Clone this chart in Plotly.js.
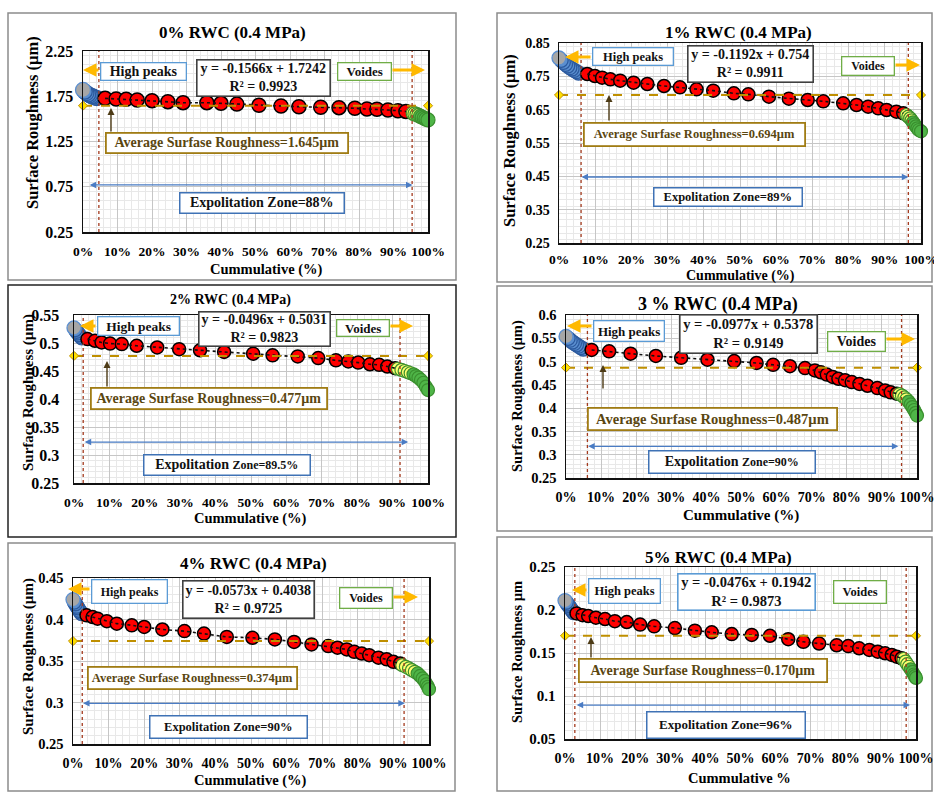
<!DOCTYPE html>
<html><head><meta charset="utf-8">
<script src="https://cdn.plot.ly/plotly-3.0.1.min.js"></script>
<style>html,body{margin:0;padding:0;background:#fff}#chart{width:934px;height:792px}</style>
</head><body><div id="chart"></div>
<script>
// ================= DATA =================
const panelTitles = ["0% RWC (0.4 MPa)", "1% RWC (0.4 MPa)", "2% RWC (0.4 MPa)", "3 % RWC (0.4 MPa)", "4% RWC (0.4 MPa)", "5% RWC (0.4 MPa)"];
const xAxisTitles = ["Cummulative (%)", "Cummulative (%)", "Cummulative (%)", "Cummulative (%)", "Cummulative (%)", "Cummulative %"];
const yAxisTitles = ["Surface Roughness (µm)", "Surface Roughness (µm)", "Surface Roughness (µm)", "Surface Roughness (µm)", "Surface Roughness (µm)", "Surface Roughness µm"];
const equations = ["y = -0.1566x + 1.7242", "y = -0.1192x + 0.754", "y = -0.0496x + 0.5031", "y = -0.0977x + 0.5378", "y = -0.0573x + 0.4038", "y = -0.0476x + 0.1942"];
const rSquared = ["R² = 0.9923", "R² = 0.9911", "R² = 0.9823", "R² = 0.9149", "R² = 0.9725", "R² = 0.9873"];
const avgValues = [1.645, 0.694, 0.477, 0.487, 0.374, 0.170];
const avgLabels = ["Average Surfase Roughness=1.645µm", "Average Surfase Roughness=0.694µm", "Average Surfase Roughness=0.477µm", "Average Surfase Roughness=0.487µm", "Average Surfase Roughness=0.374µm", "Average Surfase Roughness=0.170µm"];
const zoneValues = ["88%", "89%", "89.5%", "90%", "90%", "96%"];
const peakLabel = "High peaks";
const voidLabel = "Voides";
const peakBounds = [4.6, 6.1, 2.6, 6.1, 2.6, 2.8];
const voidBounds = [95.4, 96.5, 92.1, 95.6, 93.0, 97.2];
const zoneStart = [1.5, 5.8, 2.6, 5.9, 2.4, 2.9];
const zoneEnd = [95.5, 96.5, 94.4, 94.7, 93.2, 98.3];
const zoneLevel = [0.77, 0.448, 0.323, 0.318, 0.299, 0.0895];
const yMin = [0.25, 0.25, 0.25, 0.25, 0.25, 0.05];
const yMax = [2.25, 0.85, 0.55, 0.60, 0.45, 0.25];
const yStep = [0.5, 0.1, 0.05, 0.05, 0.05, 0.05];

// panel 0% RWC
const blueX0 = [0, 0.5, 1, 1.5, 2, 2.5, 3, 3.5, 4];
const blueY0 = [1.82, 1.80, 1.785, 1.77, 1.76, 1.75, 1.745, 1.735, 1.73];
const redX0 = [6.4, 9.6, 12.5, 15.7, 20.0, 24.6, 29.0, 35.9, 40.0, 44.6, 51.0, 57.4, 62.6, 68.9, 74.2, 78.8, 82.3, 85.2, 88.4, 91.3, 93.6];
const redY0 = [1.727, 1.720, 1.716, 1.709, 1.701, 1.690, 1.679, 1.679, 1.672, 1.663, 1.650, 1.642, 1.634, 1.628, 1.624, 1.617, 1.609, 1.606, 1.598, 1.590, 1.582];
const greenX0 = [95.7, 96.2, 96.8, 97.3, 97.8, 98.3, 98.9, 99.4, 100];
const greenY0 = [1.562, 1.555, 1.547, 1.538, 1.528, 1.518, 1.508, 1.498, 1.488];
// panel 1% RWC
const blueX1 = [0, 0.6, 1.2, 1.8, 2.4, 3.0, 3.6, 4.2, 4.8, 5.4];
const blueY1 = [0.805, 0.798, 0.792, 0.786, 0.781, 0.776, 0.772, 0.768, 0.764, 0.760];
const redX1 = [7.8, 9.9, 11.9, 14.2, 16.9, 20.6, 24.4, 29.0, 33.4, 38.0, 42.6, 48.3, 52.3, 58.0, 63.5, 68.7, 73.0, 78.5, 82.2, 85.4, 88.2, 90.5, 93.2, 95.1];
const redY1 = [0.757, 0.751, 0.746, 0.741, 0.737, 0.731, 0.727, 0.721, 0.717, 0.711, 0.707, 0.699, 0.696, 0.689, 0.683, 0.679, 0.675, 0.669, 0.664, 0.659, 0.654, 0.649, 0.644, 0.639];
const greenX1 = [96, 96.5, 97, 97.4, 97.8, 98.2, 98.6, 99, 99.4, 100];
const greenY1 = [0.634, 0.629, 0.624, 0.618, 0.612, 0.606, 0.600, 0.594, 0.589, 0.585];
// panel 2% RWC
const blueX2 = [0, 0.35, 0.7, 1.05, 1.4, 1.8, 2.2];
const blueY2 = [0.527, 0.524, 0.521, 0.518, 0.515, 0.512, 0.509];
const redX2 = [3.8, 5.9, 7.8, 10.2, 13.5, 17.7, 23.5, 29.7, 35.6, 42.4, 50.6, 56.1, 63.2, 69.0, 74.0, 77.5, 80.3, 83.6, 86.2, 88.5, 90.7];
const redY2 = [0.507, 0.504, 0.501, 0.499, 0.498, 0.495, 0.492, 0.489, 0.487, 0.484, 0.481, 0.478, 0.476, 0.473, 0.469, 0.467, 0.465, 0.462, 0.461, 0.458, 0.455];
const greenX2 = [91.5, 92.5, 93.4, 94.3, 95.1, 95.9, 96.6, 97.3, 98, 98.7, 99.4, 100];
const greenY2 = [0.454, 0.452, 0.450, 0.448, 0.446, 0.444, 0.441, 0.438, 0.434, 0.429, 0.422, 0.416];
// panel 3% RWC
const blueX3 = [0, 0.6, 1.2, 1.8, 2.4, 3.0, 3.6, 4.2, 4.9];
const blueY3 = [0.554, 0.550, 0.546, 0.542, 0.539, 0.536, 0.533, 0.530, 0.527];
const redX3 = [7.3, 12.3, 18.4, 25.6, 32.8, 40.3, 47.9, 54.3, 59.0, 63.8, 68.1, 70.9, 72.6, 74.3, 76.0, 77.6, 79.5, 81.4, 83.6, 85.9, 88.7, 90.9, 92.5, 94.2];
const redY3 = [0.525, 0.522, 0.517, 0.512, 0.508, 0.504, 0.501, 0.497, 0.493, 0.490, 0.486, 0.481, 0.477, 0.472, 0.467, 0.463, 0.460, 0.456, 0.452, 0.448, 0.443, 0.438, 0.434, 0.431];
const greenX3 = [95, 95.7, 96.4, 97, 97.6, 98.2, 98.7, 99.2, 99.6, 100];
const greenY3 = [0.430, 0.427, 0.423, 0.419, 0.414, 0.408, 0.402, 0.396, 0.390, 0.384];
// panel 4% RWC
const blueX4 = [0, 0.35, 0.7, 1.05, 1.4, 1.75, 2.1, 2.4];
const blueY4 = [0.424, 0.421, 0.419, 0.416, 0.414, 0.411, 0.409, 0.407];
const redX4 = [3.8, 5.5, 6.9, 9.5, 12.3, 16.5, 20.0, 25.1, 31.3, 36.8, 43.2, 50.4, 56.7, 62.1, 67.0, 71.7, 74.3, 76.9, 79.0, 81.1, 83.2, 85.8, 88.1, 90.0, 91.9];
const redY4 = [0.405, 0.403, 0.401, 0.398, 0.395, 0.393, 0.391, 0.388, 0.386, 0.383, 0.379, 0.378, 0.376, 0.373, 0.370, 0.368, 0.366, 0.364, 0.361, 0.359, 0.357, 0.354, 0.352, 0.349, 0.347];
const greenX4 = [92.5, 93.5, 94.4, 95.2, 96, 96.8, 97.5, 98.2, 98.8, 99.3, 99.7, 100];
const greenY4 = [0.345, 0.343, 0.341, 0.339, 0.337, 0.335, 0.332, 0.329, 0.326, 0.322, 0.319, 0.316];
// panel 5% RWC
const blueX5 = [0, 0.35, 0.7, 1.05, 1.4, 1.75, 2.1, 2.4];
const blueY5 = [0.211, 0.209, 0.207, 0.205, 0.203, 0.201, 0.199, 0.197];
const redX5 = [3.3, 5.0, 6.6, 8.8, 11.4, 14.2, 17.6, 21.4, 25.4, 31.3, 37.0, 41.8, 47.5, 53.2, 58.4, 63.6, 67.9, 72.4, 77.4, 80.7, 83.8, 86.7, 89.1, 91.2, 93.1, 94.5, 95.9];
const redY5 = [0.196, 0.194, 0.193, 0.191, 0.1895, 0.187, 0.186, 0.183, 0.181, 0.179, 0.176, 0.174, 0.172, 0.171, 0.170, 0.166, 0.163, 0.161, 0.159, 0.158, 0.1555, 0.1535, 0.1515, 0.1497, 0.1477, 0.1457, 0.1438];
const greenX5 = [96.5, 97, 97.5, 98, 98.5, 99, 99.4, 99.7, 100];
const greenY5 = [0.143, 0.140, 0.137, 0.134, 0.131, 0.128, 0.125, 0.123, 0.121];

const blueX = [blueX0, blueX1, blueX2, blueX3, blueX4, blueX5];
const blueY = [blueY0, blueY1, blueY2, blueY3, blueY4, blueY5];
const redX = [redX0, redX1, redX2, redX3, redX4, redX5];
const redY = [redY0, redY1, redY2, redY3, redY4, redY5];
const greenX = [greenX0, greenX1, greenX2, greenX3, greenX4, greenX5];
const greenY = [greenY0, greenY1, greenY2, greenY3, greenY4, greenY5];

// ================= LAYOUT GEOMETRY (pixels) =================
const W = 934, H = 792;
const geo = [
  {ax:[83,428,51,232], frame:[8,13,456,280,'#8c8c8c'], title:[232,33,17], xt:[266,270,14.5], yt:[33,123,16.5], tk:[13.5,16], ys:5, xs:6,
   hp:[100,62,186,80,14], eq:[197,60,330,96,14,'#404040'], vo:[337,62,391,80,13], avg:[106,133,348,153,14], ex:[180,193,344,213,14,14],
   arL:[100,70,83,70], arR:[391,70,425,70], arS:[111,133,111,108], ms:14},
  {ax:[559,921,43,243], frame:[497,13,932,282,'#8c8c8c'], title:[738,32,17], xt:[740,275.5,14], yt:[510,141,16.5], tk:[13.5,14], ys:5, xs:3,
   hp:[592,47,673,65,12.5], eq:[688,46,813,82,14,'#404040'], vo:[841,56,894,75,12], avg:[584,123,805,146,12.5], ex:[654,188,802,206,12.5,12.5],
   arL:[592,57,565,57], arR:[894,65,920,65], arS:[609,122,609,95], ms:13},
  {ax:[74,428,315,483], frame:[8,285,456,537,'#222'], title:[230,300,14], xt:[250,518,14.5], yt:[28,393,15], tk:[13.5,16], ys:10, xs:6,
   hp:[97,316,179,335,13.5], eq:[199,312,330,346,14,'#404040'], vo:[336,319,389,336,13], avg:[91,388,327,409,14], ex:[144,455,310,475,14,12],
   arL:[97,326,80,326], arR:[389,326,413,326], arS:[107,388,107,361], ms:13},
  {ax:[566,917,315,478], frame:[497,286,932,531,'#8c8c8c'], title:[718,304,18], xt:[741,515,15], yt:[517,396,14.5], tk:[14,14.5], ys:5, xs:6,
   hp:[593,320,664,341,13], eq:[680,315,817,353,14.5,'#404040'], vo:[827,331,885,351,14], avg:[588,408,837,430,14.5], ex:[649,451,815,473,14,12],
   arL:[593,326,567,326], arR:[885,339,915,339], arS:[603,390,603,365], ms:13},
  {ax:[73,429,578,744], frame:[8,543,455,791,'#8c8c8c'], title:[253,563,17], xt:[251,780,14.5], yt:[28,657,15], tk:[14,14.5], ys:5, xs:6,
   hp:[91,579,167,603,12], eq:[183,581,314,618,14,'#404040'], vo:[339,587,392,608,12], avg:[88,667,297,689,12.5], ex:[150,716,307,738,12.5,12.5],
   arL:[91,589,68,589], arR:[392,597,418,597], arS:null, ms:13},
  {ax:[565,916,567,739], frame:[497,537,932,791,'#8c8c8c'], title:[718,557,17], xt:[739,778,14.5], yt:[517,652,14.5], tk:[14,15], ys:5, xs:6,
   hp:[588,578,660,603,12.5], eq:[678,574,815,610,14.5,'#5b9bd5'], vo:[833,580,886,603,12.5], avg:[579,659,827,682,14], ex:[647,712,805,738,13,13],
   arL:[588,590,572,590], arR:null, arS:[591,659,591,637], ms:13}
];
const px = x => x / W;
const py = y => 1 - y / H;
const FONT = 'Liberation Serif, Times New Roman, serif';
const f = (size, color) => ({family: FONT, size: size, color: color || '#000', weight: 'bold'});

const traces = [];
const layout = {
  width: W, height: H, margin: {l:0, r:0, t:0, b:0},
  paper_bgcolor: '#fff', plot_bgcolor: '#fff', showlegend: false,
  annotations: [], shapes: []
};

for (let i = 0; i < 6; i++) {
  const g = geo[i];
  const n = i === 0 ? '' : String(i + 1);
  const xa = 'x' + n, ya = 'y' + n;
  layout['xaxis' + n] = {
    domain: [px(g.ax[0]), px(g.ax[1])], anchor: ya, range: [0, 100],
    tick0: 0, dtick: 10, ticksuffix: '%', ticks: '', ticklabelstandoff: g.xs, ticklabeloverflow: 'allow',
    showgrid: true, gridcolor: '#c6c6c6', gridwidth: 1,
    minor: {dtick: 2, showgrid: true, gridcolor: '#e8e8e8', gridwidth: 1},
    showline: true, mirror: true, linecolor: '#111', linewidth: 1.5,
    zeroline: false, tickfont: f(g.tk[0]), fixedrange: true
  };
  layout['yaxis' + n] = {
    domain: [py(g.ax[3]), py(g.ax[2])], anchor: xa, range: [yMin[i], yMax[i]],
    tick0: yMin[i], dtick: yStep[i], ticks: '', ticklabelstandoff: g.ys, ticklabeloverflow: 'allow',
    showgrid: true, gridcolor: '#c6c6c6', gridwidth: 1,
    minor: {dtick: yStep[i] / 5, showgrid: true, gridcolor: '#e8e8e8', gridwidth: 1},
    showline: true, mirror: true, linecolor: '#111', linewidth: 1.5,
    zeroline: false, tickfont: f(g.tk[1]), fixedrange: true
  };

  // panel frame
  layout.shapes.push({type: 'rect', xref: 'paper', yref: 'paper',
    x0: px(g.frame[0]), x1: px(g.frame[2]), y0: py(g.frame[3]), y1: py(g.frame[1]),
    line: {color: g.frame[4], width: 1.5}, layer: 'below'});
  // boundary lines
  [peakBounds[i], voidBounds[i]].forEach(b => layout.shapes.push({
    type: 'line', xref: xa, yref: ya + ' domain', x0: b, x1: b, y0: 0, y1: 1,
    line: {color: '#a33a1e', width: 1.3, dash: 'dot'}, layer: 'above'}));

  // blue (high peaks) points: drawn last-to-first so the first (grey) sits on top
  const bx = blueX[i].slice().reverse(), by = blueY[i].slice().reverse();
  const bn = bx.length;
  traces.push({type: 'scatter', mode: 'markers', xaxis: xa, yaxis: ya, x: bx, y: by, cliponaxis: false,
    hoverinfo: 'skip',
    marker: {size: g.ms + 1, color: bx.map((v, k) => k === bn - 1 ? '#a6a6a6' : '#5b8fd0'),
             line: {color: bx.map((v, k) => k === bn - 1 ? '#5b8fd0' : '#2c5a9e'), width: 1.3}}});
  // red points (exploitation zone)
  traces.push({type: 'scatter', mode: 'markers', xaxis: xa, yaxis: ya, x: redX[i], y: redY[i], cliponaxis: false,
    hoverinfo: 'skip', marker: {size: g.ms, color: '#ff0000', line: {color: '#000', width: 1.5}}});
  // green (voids) points
  const gn = greenX[i].length;
  traces.push({type: 'scatter', mode: 'markers', xaxis: xa, yaxis: ya, x: greenX[i], y: greenY[i], cliponaxis: false,
    hoverinfo: 'skip',
    marker: {size: g.ms, color: greenX[i].map((v, k) => k < gn * 0.4 ? '#ffff70' : '#4fb548'),
             line: {color: '#3a8f2e', width: 1.2}}});
  // dotted line through exploitation points
  traces.push({type: 'scatter', mode: 'lines', xaxis: xa, yaxis: ya, x: redX[i], y: redY[i], cliponaxis: false,
    hoverinfo: 'skip', line: {color: '#111', width: 1.6, dash: 'dot'}});
  // average line
  traces.push({type: 'scatter', mode: 'lines+markers', xaxis: xa, yaxis: ya, x: [0, 100], y: [avgValues[i], avgValues[i]],
    cliponaxis: false, hoverinfo: 'skip',
    line: {color: '#bf8f00', width: 2, dash: 'dash'},
    marker: {symbol: 'diamond', size: 7, color: '#ffe000', line: {color: '#bf8f00', width: 1}}});

  // exploitation zone arrow
  layout.annotations.push({xref: xa, yref: ya, x: zoneEnd[i], y: zoneLevel[i], axref: xa, ayref: ya,
    ax: zoneStart[i], ay: zoneLevel[i], text: '', showarrow: true, arrowside: 'end+start',
    arrowhead: 2, startarrowhead: 2, arrowsize: 1, startarrowsize: 1, arrowwidth: 1.3, arrowcolor: '#4a7cc4', standoff: 0, startstandoff: 0});

  // titles
  layout.annotations.push({xref: 'paper', yref: 'paper', x: px(g.title[0]), y: py(g.title[1]), xanchor: 'center', yanchor: 'middle',
    text: panelTitles[i], showarrow: false, font: f(g.title[2])});
  layout.annotations.push({xref: 'paper', yref: 'paper', x: px(g.xt[0]), y: py(g.xt[1]), xanchor: 'center', yanchor: 'middle',
    text: xAxisTitles[i], showarrow: false, font: f(g.xt[2])});
  layout.annotations.push({xref: 'paper', yref: 'paper', x: px(g.yt[0]), y: py(g.yt[1]), xanchor: 'center', yanchor: 'middle',
    text: yAxisTitles[i], showarrow: false, textangle: -90, font: f(g.yt[2])});

  // text boxes
  const box = (b, text, border, bw, color, fontSize) => ({
    xref: 'paper', yref: 'paper', x: px((b[0] + b[2]) / 2), y: py((b[1] + b[3]) / 2), xanchor: 'center', yanchor: 'middle',
    width: b[2] - b[0] - bw, height: b[3] - b[1] - bw, borderpad: 0, borderwidth: bw, bordercolor: border,
    bgcolor: '#fff', text: text, showarrow: false, font: f(fontSize || b[4], color)});
  layout.annotations.push(box(g.hp, peakLabel, '#5b9bd5', 1.3, '#111'));
  layout.annotations.push(box(g.eq, equations[i] + '<br>' + rSquared[i], g.eq[5], 1.6, '#111'));
  layout.annotations.push(box(g.vo, voidLabel, '#70ad47', 1.3, '#111'));
  layout.annotations.push(box(g.avg, avgLabels[i], '#a07c14', 1.8, '#5a4610'));
  const zoneText = g.ex[5] !== g.ex[4]
    ? 'Expolitation <span style="font-size:' + g.ex[5] + 'px">Zone=' + zoneValues[i] + '</span>'
    : 'Expolitation Zone=' + zoneValues[i];
  layout.annotations.push(box(g.ex, zoneText, '#3f72b5', 1.5, '#111'));

  // orange arrows
  [g.arL, g.arR].forEach(a => { if (!a) return;
    layout.annotations.push({xref: 'paper', yref: 'paper', x: px(a[2]), y: py(a[3]), ax: a[0] - a[2], ay: a[1] - a[3],
      text: '', showarrow: true, arrowhead: 2, arrowsize: 0.9, arrowwidth: 3, arrowcolor: '#ffb900', standoff: 0});
  });
  // small arrow to average line
  if (g.arS) {
    layout.annotations.push({xref: 'paper', yref: 'paper', x: px(g.arS[2]), y: py(g.arS[3]), ax: g.arS[0] - g.arS[2], ay: g.arS[1] - g.arS[3],
      text: '', showarrow: true, arrowhead: 2, arrowsize: 1, arrowwidth: 1.4, arrowcolor: '#4d3b16', standoff: 0});
  }
}

Plotly.newPlot('chart', traces, layout, {staticPlot: true, displayModeBar: false});
</script>
</body></html>
